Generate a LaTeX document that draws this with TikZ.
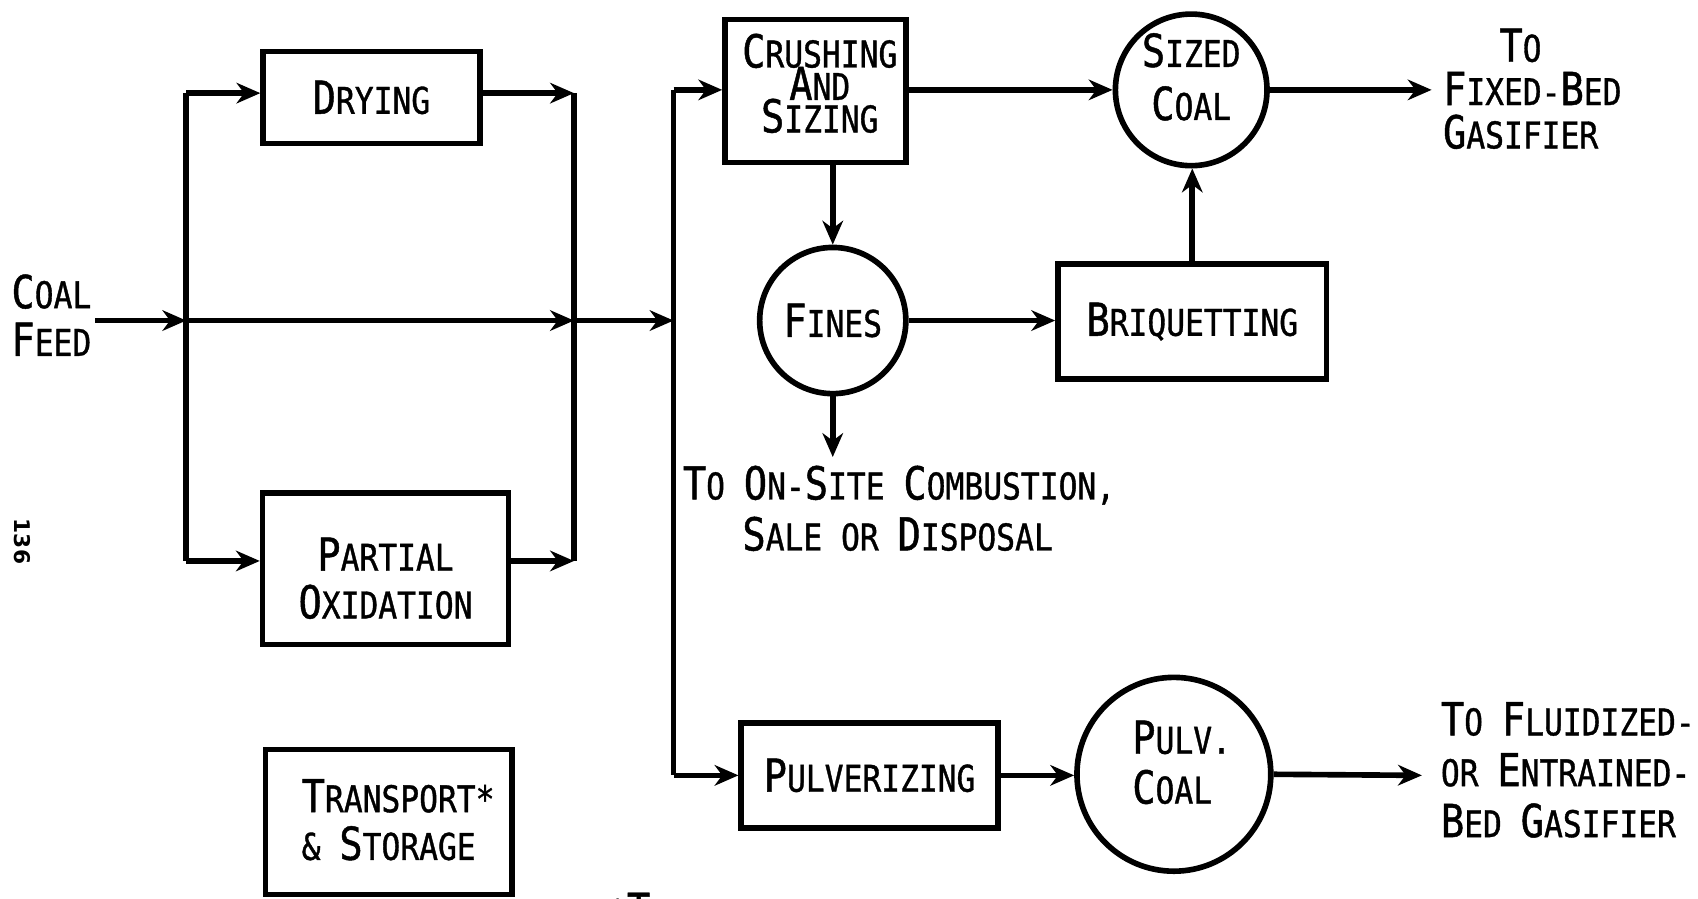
\documentclass[tikz,border=0pt]{standalone}
\usepackage{fontspec}
\setmainfont{DejaVu Sans Mono}[FakeStretch=0.85,FakeBold=1]
\newfontfamily\pagefont{DejaVu Sans}
\usetikzlibrary{arrows.meta}
\newcommand\Bg[1]{{\fontsize{21}{22}\selectfont #1}}
\newcommand\amp{\char"26\relax}
\setlength{\lineskiplimit}{-30pt}
\begin{document}
\begin{tikzpicture}[x=0.5pt,y=-0.5pt,
  line width=2.6pt,
  every node/.style={font=\fontsize{17}{22}\selectfont},
  proc/.style={draw,line width=2.6pt,inner sep=0pt,align=center},
  stor/.style={draw,circle,line width=2.6pt,inner sep=0pt,align=center},
  flow/.style={-{Stealth[length=11pt,width=9.5pt,inset=3.5pt]}},
  lbl/.style={inner sep=0pt,align=left},
  txt/.style={inner sep=0pt,align=center},
]
\useasboundingbox (0,0) rectangle (1568,830);

% boxes and circles
\node[proc,minimum width=100pt,minimum height=42.5pt] (dry) at (343,90) {\Bg{D}RYING};
\node[proc,minimum width=113.5pt,minimum height=70pt] (pox) at (356,525) {};
\node[txt] (poxT) at (356,534) {\Bg{P}ARTIAL\\\Bg{O}XIDATION};
\node[proc,minimum width=114pt,minimum height=67pt] (trs) at (359,759) {};
\node[lbl,anchor=west] (trsT) at (276,757) {\Bg{T}RANSPORT*\\\amp{} \Bg{S}TORAGE};
\node[proc,minimum width=83.5pt,minimum height=66pt] (crush) at (753,84) {};
\node[txt,font=\fontsize{17}{15}\selectfont] (crushT) at (757,77) {\Bg{C}RUSHING\\\Bg{A}ND\\\Bg{S}IZING};
\node[stor,minimum size=70pt] (sized) at (1100,83) {};
\node[txt,font=\fontsize{17}{24.5}\selectfont] (sizedT) at (1100,71) {\Bg{S}IZED\\\Bg{C}OAL};
\node[stor,minimum size=67.5pt] (fines) at (769,296) {\Bg{F}INES};
\node[proc,minimum width=124pt,minimum height=53pt] (briq) at (1101,297) {\Bg{B}RIQUETTING};
\node[proc,minimum width=118.5pt,minimum height=48.5pt] (pulv) at (803,716) {\Bg{P}ULVERIZING};
\node[stor,minimum size=89.5pt] (pcoal) at (1084,715) {};
\node[lbl,anchor=west,font=\fontsize{17}{23}\selectfont] (pcoalT) at (1043,704) {\Bg{P}ULV.\\\Bg{C}OAL};

% labels
\node[lbl,anchor=west] (feed) at (8,291) {\Bg{C}OAL\\\Bg{F}EED};
\node[lbl,anchor=west,font=\fontsize{17}{20}\selectfont] (fixed) at (1330,82) {\hspace*{26pt}\Bg{T}O\\\Bg{F}IXED-\Bg{B}ED\\\Bg{G}ASIFIER};
\node[lbl,anchor=west,font=\fontsize{17}{23.5}\selectfont] (fluid) at (1328,711) {\Bg{T}O \Bg{F}LUIDIZED-\\OR \Bg{E}NTRAINED-\\\Bg{B}ED \Bg{G}ASIFIER};
\node[lbl,anchor=west] (onsite) at (628,448) {\Bg{T}O \Bg{O}N-\Bg{S}ITE \Bg{C}OMBUSTION,};
\node[lbl,anchor=west] (sale) at (683,493) {\Bg{S}ALE OR \Bg{D}ISPOSAL};
\node[inner sep=0pt,rotate=-90,font=\pagefont\bfseries\fontsize{10}{12}\selectfont] (page) at (21,500) {136};
\begin{scope}
\clip (0,0) rectangle (1568,830);
\node[inner sep=0pt,anchor=base west] (note) at (559,855) {*\Bg{T}};
\end{scope}

% junction coordinates
\coordinate (fin) at (88,296);
\coordinate (b1t) at (172,86);
\coordinate (b1m) at (172,296);
\coordinate (b1b) at (172,518);
\coordinate (b2t) at (530,86);
\coordinate (b2m) at (530,296);
\coordinate (b2b) at (530,518);
\coordinate (b3t) at (622,83);
\coordinate (b3m) at (622,296);
\coordinate (b3b) at (622,716);
\coordinate (fixo) at (1322,83);
\coordinate (fluo) at (1313,716);
\coordinate (siteo) at (769,422);

% buses
\draw (b1t) -- (b1b);
\draw (b2t) -- (b2b);
\draw (b3t) -- (b3b);

% flows
\draw[flow] (fin) -- (b1m);
\draw[flow] (b1t) -- (b1t -| dry.west);
\draw[flow] (dry.east |- b2t) -- (b2t);
\draw[flow] (b1m) -- (b2m);
\draw[flow] (b1b) -- (b1b -| pox.west);
\draw[flow] (pox.east |- b2b) -- (b2b);
\draw[flow] (b2m) -- (b3m);
\draw[flow] (b3t) -- (b3t -| crush.west);
\draw[flow] (crush.east |- sized.west) -- (sized.west);
\draw[flow] (sized.east) -- (fixo);
\draw[flow] (fines.north |- crush.south) -- (fines.north);
\draw[flow] (fines.east) -- (fines.east -| briq.west);
\draw[flow] (briq.north) -- (briq.north |- sized.south);
\draw[flow] (fines.south) -- (siteo);
\draw[flow] (b3b) -- (b3b -| pulv.west);
\draw[flow] (pulv.east) -- (pulv.east -| pcoal.west);
\draw[flow] (pcoal.east) -- (fluo);
\end{tikzpicture}
\end{document}
